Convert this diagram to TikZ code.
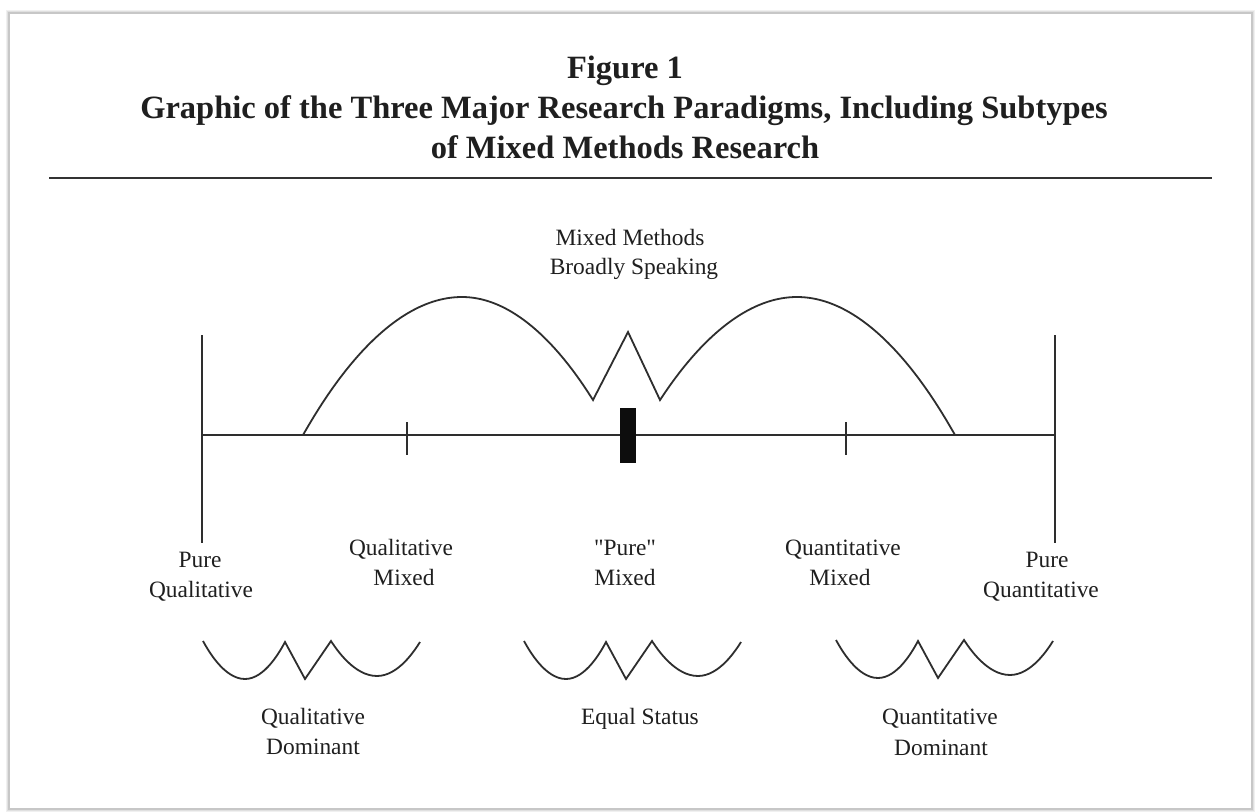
\documentclass[tikz,border=0pt]{standalone}
\usepackage{fontspec}
\setmainfont{Liberation Serif}
\newfontfamily\rawserif{Liberation Serif}
\begin{document}
\begin{tikzpicture}[x=1pt,y=-1pt,
  ln/.style={draw=black!82, line width=1.8pt, line join=miter},
  lbl/.style={font=\fontsize{23.4}{30}\selectfont, text=black!88, inner sep=0pt, anchor=base},
  ttl/.style={font=\bfseries\fontsize{32.5}{40}\selectfont, text=black!88, inner sep=0pt, anchor=base},
  wave/.pic={\draw[ln] (0,0) parabola bend (42,38) (82,1) -- (102,38) -- (128,0) parabola bend (174,35) (217,1);}]
\useasboundingbox (0,0) rectangle (1255,811);
\fill[white] (0,0) rectangle (1255,811);
% frame with soft shadow
\draw[black!6, line width=7pt] (9,13) rectangle (1252,809);
\draw[black!12, line width=3.5pt] (9,13) rectangle (1252,809);
\draw[black!22, line width=1.2pt] (9,13) rectangle (1252,809);
\fill[white] (10,14) rectangle (1251,808);
% title
\node[ttl] (t1) at (625,78) {Figure 1};
\node[ttl] (t2) at (624,118) {Graphic of the Three Major Research Paradigms, Including Subtypes};
\node[ttl] (t3) at (625,158) {of Mixed Methods Research};
\coordinate (ruleL) at (49,178);
\coordinate (ruleR) at (1212,178);
\draw[draw=black!80, line width=2.6pt] (ruleL) -- (ruleR);
% axis
\coordinate (axL) at (202,435);
\coordinate (axR) at (1055,435);
\draw[ln] (axL) -- (axR);
\coordinate (vLt) at (202,335); \coordinate (vLb) at (202,543);
\coordinate (vRt) at (1055,335); \coordinate (vRb) at (1055,543);
\draw[ln] (vLt) -- (vLb);
\draw[ln] (vRt) -- (vRb);
\coordinate (tkLt) at (407,422); \coordinate (tkLb) at (407,455);
\coordinate (tkRt) at (846,422); \coordinate (tkRb) at (846,455);
\draw[ln] (tkLt) -- (tkLb);
\draw[ln] (tkRt) -- (tkRb);
\node[fill=black!95, minimum width=16pt, minimum height=55pt, inner sep=0pt] (mid) at (628,435.5) {};
% mixed methods curve
\coordinate (c0) at (303,435);
\coordinate (c1) at (462,297);
\coordinate (c2) at (593,400);
\coordinate (c3) at (628,332);
\coordinate (c4) at (660,400);
\coordinate (c5) at (797,297);
\coordinate (c6) at (955,435);
\draw[ln] (c0) parabola bend (c1) (c2) -- (c3) -- (c4) parabola bend (c5) (c6);
\node[lbl] (mm1) at (630,245) {Mixed Methods};
\node[lbl] (mm2) at (634,274) {Broadly Speaking};
% labels under the axis
\node[lbl] (pq1) at (200,567) {Pure};
\node[lbl] (pq2) at (201,597) {Qualitative};
\node[lbl] (qm1) at (401,555) {Qualitative};
\node[lbl] (qm2) at (404,585) {Mixed};
\node[lbl] (pm1) at (625,555) {\rawserif "Pure"};
\node[lbl] (pm2) at (625,585) {Mixed};
\node[lbl] (nm1) at (843,555) {Quantitative};
\node[lbl] (nm2) at (840,585) {Mixed};
\node[lbl] (pn1) at (1047,567) {Pure};
\node[lbl] (pn2) at (1041,597) {Quantitative};
% status waves
\pic at (203,641) {wave};
\pic at (524,641) {wave};
\pic at (836,640) {wave};
\node[lbl] (qd1) at (313,724) {Qualitative};
\node[lbl] (qd2) at (313,754) {Dominant};
\node[lbl] (es) at (640,724) {Equal Status};
\node[lbl] (nd1) at (940,724) {Quantitative};
\node[lbl] (nd2) at (941,755) {Dominant};
\end{tikzpicture}
\end{document}
